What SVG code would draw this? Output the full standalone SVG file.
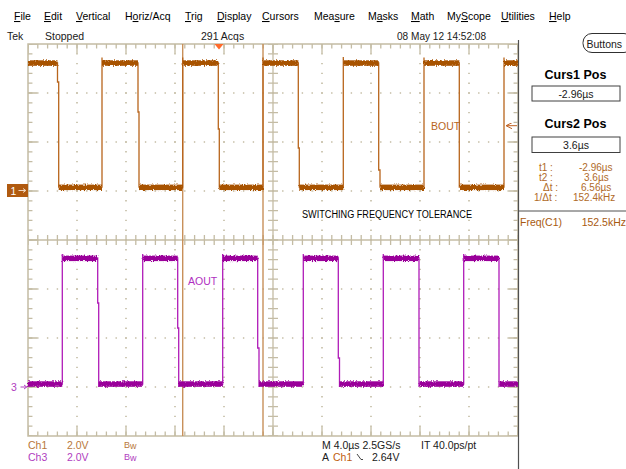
<svg xmlns="http://www.w3.org/2000/svg" width="626" height="469" viewBox="0 0 626 469">
<defs>
<style>
text{font-family:"Liberation Sans",Arial,sans-serif;font-size:10.5px;fill:#202020}
.menu{font-size:10.5px;fill:#000}
.u{text-decoration:underline}
.ttl{font-size:12.5px;font-weight:bold;fill:#000}
.rd{font-size:10px;fill:#b06a28}
.c1t{fill:#b8783a}
.c3t{fill:#b040c0}
.grid{stroke:#c4bca4;fill:none}
.dot{stroke:#c4bca4;stroke-width:1.6;stroke-dasharray:1.4 8.4;stroke-dashoffset:0.7}
.tk{stroke:#c4bca4;stroke-dasharray:1.3 8.5;stroke-dashoffset:0.65}
.tkM{stroke:#c4bca4;stroke-dasharray:1.3 47.7;stroke-dashoffset:0.65}
.cur{stroke:#c8905a;stroke-width:1.4}
.w1{stroke:#b8651c;stroke-width:1.3;fill:none}
.w3{stroke:#b01cb8;stroke-width:1.3;fill:none}
.b1{fill:#a85200}
.b3{fill:#9a009a}
.box{fill:#fff;stroke:#404040;stroke-width:1}
</style>
<filter id="noise" x="-2%" y="-20%" width="104%" height="140%">
<feTurbulence type="fractalNoise" baseFrequency="0.9 0.6" numOctaves="1" seed="4" result="t"/>
<feDisplacementMap in="SourceGraphic" in2="t" scale="4" xChannelSelector="R" yChannelSelector="G"/>
</filter>
<marker id="arrL" markerWidth="6" markerHeight="6" refX="1" refY="3" orient="auto" markerUnits="userSpaceOnUse">
<path d="M6 0 L0 3 L6 6" fill="none" stroke="#c06020" stroke-width="1"/>
</marker>
</defs>
<rect width="626" height="469" fill="#fff"/>

<g id="menubar">
<text class="menu" x="14" y="20"><tspan class="u">F</tspan>ile</text>
<text class="menu" x="44" y="20"><tspan class="u">E</tspan>dit</text>
<text class="menu" x="76" y="20"><tspan class="u">V</tspan>ertical</text>
<text class="menu" x="125" y="20">H<tspan class="u">o</tspan>riz/Acq</text>
<text class="menu" x="185" y="20"><tspan class="u">T</tspan>rig</text>
<text class="menu" x="217" y="20"><tspan class="u">D</tspan>isplay</text>
<text class="menu" x="262" y="20"><tspan class="u">C</tspan>ursors</text>
<text class="menu" x="314" y="20">Mea<tspan class="u">s</tspan>ure</text>
<text class="menu" x="368" y="20">M<tspan class="u">a</tspan>sks</text>
<text class="menu" x="411" y="20"><tspan class="u">M</tspan>ath</text>
<text class="menu" x="447" y="20">My<tspan class="u">S</tspan>cope</text>
<text class="menu" x="501" y="20"><tspan class="u">U</tspan>tilities</text>
<text class="menu" x="549" y="20"><tspan class="u">H</tspan>elp</text>
</g>

<g id="status">
<text x="7" y="40">Tek</text>
<text x="45" y="40">Stopped</text>
<text x="201" y="40">291 Acqs</text>
<text x="397" y="40" textLength="89" lengthAdjust="spacingAndGlyphs">08 May 12 14:52:08</text>
</g>

<g id="buttons">
<rect x="583" y="33.5" width="50" height="19" rx="9" ry="9" fill="#fff" stroke="#303030" stroke-width="1"/>
<text x="586.5" y="47.5" fill="#000">Buttons</text>
</g>

<g id="graticule">
<g class="dot">
<line x1="77" y1="44" x2="77" y2="436"/><line x1="126" y1="44" x2="126" y2="436"/>
<line x1="175" y1="44" x2="175" y2="436"/><line x1="224" y1="44" x2="224" y2="436"/>
<line x1="322" y1="44" x2="322" y2="436"/><line x1="371" y1="44" x2="371" y2="436"/>
<line x1="420" y1="44" x2="420" y2="436"/><line x1="469" y1="44" x2="469" y2="436"/>
<line x1="28" y1="93" x2="518" y2="93"/><line x1="28" y1="142" x2="518" y2="142"/>
<line x1="28" y1="191" x2="518" y2="191"/><line x1="28" y1="289" x2="518" y2="289"/>
<line x1="28" y1="338" x2="518" y2="338"/><line x1="28" y1="387" x2="518" y2="387"/>
</g>
<line class="grid" x1="273" y1="44" x2="273" y2="436" stroke-width="1.3"/>
<line class="grid" x1="28" y1="240" x2="518" y2="240" stroke-width="1.3"/>
<line class="tk" x1="273" y1="44" x2="273" y2="436" stroke-width="10"/>
<line class="tk" x1="28" y1="240" x2="518" y2="240" stroke-width="10"/>
<line class="tk" x1="28" y1="46.2" x2="518" y2="46.2" stroke-width="4.5"/>
<line class="tkM" x1="28" y1="48.5" x2="518" y2="48.5" stroke-width="9"/>
<line class="tk" x1="28" y1="433.8" x2="518" y2="433.8" stroke-width="4.5"/>
<line class="tkM" x1="28" y1="431.5" x2="518" y2="431.5" stroke-width="9"/>
<line class="tk" x1="30.2" y1="44" x2="30.2" y2="436" stroke-width="4.5"/>
<line class="tkM" x1="32.5" y1="44" x2="32.5" y2="436" stroke-width="9"/>
<line class="tk" x1="515.8" y1="44" x2="515.8" y2="436" stroke-width="4.5"/>
<line class="tkM" x1="513.5" y1="44" x2="513.5" y2="436" stroke-width="9"/>
<rect class="grid" x="28" y="44" width="490" height="392" stroke-width="1.5"/>
</g>

<g id="separator">
<line x1="518.5" y1="40" x2="518.5" y2="469" stroke="#505050" stroke-width="1.2"/>
</g>

<g id="connectors">
<line class="cur" x1="182.7" y1="44" x2="182.7" y2="436"/>
<line class="cur" x1="263" y1="44" x2="263" y2="436"/>
</g>

<g id="ch1">
<path class="w1" d="M28 63 H57.5 V82 H58.7 V187 H102 V57.5 V63 H138 V112 H139 V187 H182.7 V57.5 V63 H218.3 V129 H219.3 V187 H263 V57.5 V63 H298.3 V148 H299.3 V187 H343.3 V57 V63 H378.7 V170 H380 V187 H424 V57.5 V63 H459.3 V187 H504 V57.5 V63 H518"/>
<g class="b1" filter="url(#noise)">
<rect x="28" y="60.3" width="29.5" height="5.5"/>
<rect x="102" y="60.3" width="36" height="5.5"/>
<rect x="182.7" y="60.3" width="35.6" height="5.5"/>
<rect x="263" y="60.3" width="35.3" height="5.5"/>
<rect x="343.3" y="60.3" width="35.4" height="5.5"/>
<rect x="424" y="60.3" width="35.3" height="5.5"/>
<rect x="504" y="60.3" width="14" height="5.5"/>
<rect x="58.7" y="184.6" width="43.3" height="5.5"/>
<rect x="139" y="184.6" width="43.7" height="5.5"/>
<rect x="219.3" y="184.6" width="43.7" height="5.5"/>
<rect x="299.3" y="184.6" width="44" height="5.5"/>
<rect x="380" y="184.6" width="44" height="5.5"/>
<rect x="460" y="184.6" width="44" height="5.5"/>
</g>
</g>

<g id="ch3">
<path class="w3" d="M28 384 H62.3 V254 V258 H97.7 V303 H98.7 V387 V384 H142.7 V254 V258 H177.7 V328 H178.7 V387 V384 H222.7 V254 V258 H257.7 V348 H259 V387 V384 H303.3 V254 V258 H338.3 V358 H339.5 V387 V384 H383.3 V254 V258 H419 V387 V384 H463.7 V254 V258 H499 V387 V384 H518"/>
<g class="b3" filter="url(#noise)">
<rect x="28" y="381.3" width="34.3" height="5.5"/>
<rect x="98.7" y="381.3" width="44" height="5.5"/>
<rect x="178.7" y="381.3" width="44" height="5.5"/>
<rect x="259" y="381.3" width="44.3" height="5.5"/>
<rect x="339.5" y="381.3" width="43.8" height="5.5"/>
<rect x="419.5" y="381.3" width="44.2" height="5.5"/>
<rect x="499.5" y="381.3" width="18.5" height="5.5"/>
<rect x="62.3" y="255.6" width="35.4" height="5.5"/>
<rect x="142.7" y="255.6" width="35" height="5.5"/>
<rect x="222.7" y="255.6" width="35" height="5.5"/>
<rect x="303.3" y="255.6" width="35" height="5.5"/>
<rect x="383.3" y="255.6" width="35.7" height="5.5"/>
<rect x="463.7" y="255.6" width="35.3" height="5.5"/>
</g>
</g>

<g id="trigger">
<path d="M214.5 44 L223.5 44 L219 49.5 Z" fill="#ff6a2a"/>
</g>

<g id="marker1">
<rect x="7" y="184" width="21" height="13" fill="#b05a10"/>
<text x="10.5" y="194.5" style="fill:#fff">1</text>
<line x1="18.5" y1="190.5" x2="25.5" y2="190.5" stroke="#f0d8c0" stroke-width="1"/>
<path d="M23 188.5 L25.8 190.5 L23 192.5" fill="none" stroke="#f0d8c0" stroke-width="1"/>
</g>

<g id="marker3">
<text class="c3t" x="11" y="391">3</text>
<line x1="20.5" y1="387" x2="26.5" y2="387" stroke="#b040c0" stroke-width="1"/>
<path d="M24 385 L26.8 387 L24 389" fill="none" stroke="#b040c0" stroke-width="1"/>
</g>

<g id="labels">
<text x="431" y="130" style="fill:#b8651c">BOUT</text>
<line x1="507" y1="125.7" x2="517" y2="125.7" stroke="#c06020" stroke-width="1" marker-start="url(#arrL)"/>
<text x="188" y="285" style="fill:#b030c0">AOUT</text>
<text x="302" y="218" style="fill:#000;font-size:10px" textLength="170" lengthAdjust="spacingAndGlyphs">SWITCHING FREQUENCY TOLERANCE</text>
</g>

<g id="cursorpanel">
<text class="ttl" x="575.5" y="78.5" text-anchor="middle">Curs1 Pos</text>
<rect class="box" x="532" y="86" width="88" height="15"/>
<text x="576" y="97.5" text-anchor="middle" fill="#000">-2.96µs</text>
<text class="ttl" x="575.5" y="128" text-anchor="middle">Curs2 Pos</text>
<rect class="box" x="532" y="137" width="88" height="15.5"/>
<text x="576" y="148.5" text-anchor="middle" fill="#000">3.6µs</text>
<text class="rd" x="539" y="171">t1 :</text>
<text class="rd" x="579" y="171">-2.96µs</text>
<text class="rd" x="539" y="181">t2 :</text>
<text class="rd" x="584" y="181">3.6µs</text>
<text class="rd" x="543" y="191">Δt :</text>
<text class="rd" x="581" y="191">6.56µs</text>
<text class="rd" x="534" y="201">1/Δt :</text>
<text class="rd" x="573" y="201">152.4kHz</text>
<line x1="519" y1="211" x2="626" y2="211" stroke="#505050" stroke-width="1"/>
<text x="520" y="225.5" style="fill:#a85a10">Freq(C1)</text>
<text x="626" y="225.5" text-anchor="end" style="fill:#a85a10">152.5kHz</text>
</g>

<g id="footer">
<text class="c1t" x="28" y="449">Ch1</text>
<text class="c1t" x="67" y="449">2.0V</text>
<text class="c1t" x="124" y="447.5" style="font-size:9px">B<tspan dy="1.5">w</tspan></text>
<text class="c3t" x="28" y="461">Ch3</text>
<text class="c3t" x="67" y="461">2.0V</text>
<text class="c3t" x="124" y="459.5" style="font-size:9px">B<tspan dy="1.5">w</tspan></text>
<text x="322" y="449">M 4.0µs 2.5GS/s</text>
<text x="421" y="449">IT 40.0ps/pt</text>
<text x="322" y="461">A</text>
<text x="333" y="461" style="fill:#c06010">Ch1</text>
<path d="M357 454 L361 459.5 M361 459.5 H363" fill="none" stroke="#303030" stroke-width="0.9"/>
<text x="372" y="461">2.64V</text>
</g>
</svg>
